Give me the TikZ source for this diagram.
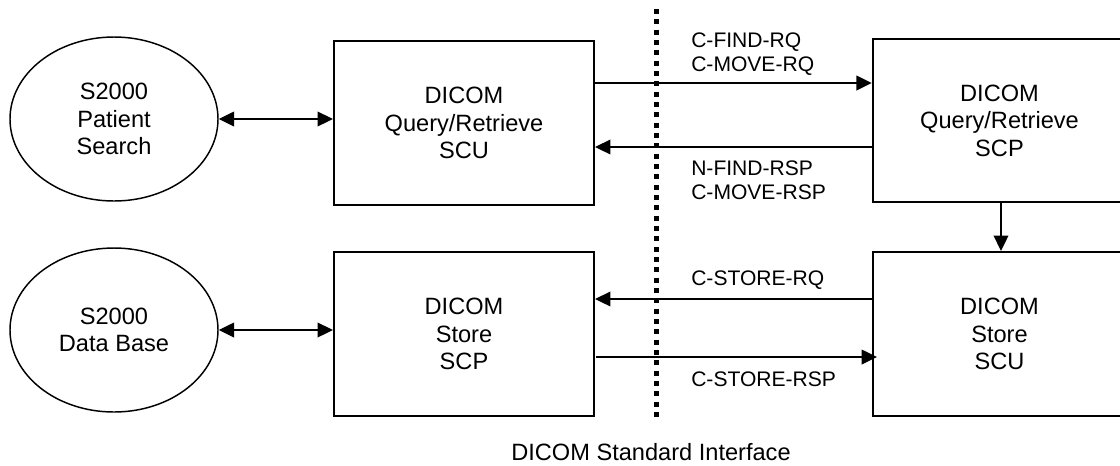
\documentclass[tikz,border=0pt]{standalone}
\usepackage{fontspec}
\setmainfont{Liberation Sans}
\usetikzlibrary{arrows.meta,shapes.geometric}
\tikzset{
  x=0.75pt,y=-0.75pt,
  boxnode/.style={draw,line width=1.6pt,inner sep=0pt,align=center,font=\fontsize{17.7}{20.6}\selectfont},
  ovalnode/.style={boxnode,ellipse,line width=1.1pt},
  lbl/.style={inner sep=0pt,align=left,anchor=west,font=\fontsize{15.8}{18.3}\selectfont},
  conn/.style={line width=1.1pt,-{Triangle[length=11.5pt,width=11pt]}},
  conn2/.style={line width=1.1pt,{Triangle[length=11.5pt,width=11pt]}-{Triangle[length=11.5pt,width=11pt]}},
}
\begin{document}
\begin{tikzpicture}
\useasboundingbox (0,0) rectangle (1120,465);
\coordinate (qtop) at (656,9);
\coordinate (qbot) at (656,420);
\draw[line width=3.75pt,dash pattern=on 3.75pt off 4pt] (qtop) -- (qbot);
\node[ovalnode,minimum width=156pt,minimum height=123pt] (e1) at (114,119) {S2000\\Patient\\Search};
\node[ovalnode,minimum width=156pt,minimum height=123pt] (e2) at (114,330) {S2000\\Data Base};
\node[boxnode,minimum width=195pt,minimum height=123pt] (qu) at (464,123) {DICOM\\Query/Retrieve\\SCU};
\node[boxnode,minimum width=195pt,minimum height=123pt] (su) at (464,334) {DICOM\\Store\\SCP};
\node[boxnode,minimum width=190pt,minimum height=122pt,text width=185pt] (qp) at (999.5,120.5) {DICOM\\Query/Retrieve\\SCP};
\node[boxnode,minimum width=190pt,minimum height=123pt,text width=185pt] (sp) at (999.5,334) {DICOM\\Store\\SCU};
\draw[conn2] (e1.east) -- (e1.east -| qu.west);
\draw[conn2] (e2.east) -- (e2.east -| su.west);
\draw[conn] (qu.east |- 0,83) -- (qp.west |- 0,83);
\draw[conn] (qp.west |- 0,147) -- (qu.east |- 0,147);
\draw[conn] (sp.west |- 0,299) -- (su.east |- 0,299);
\coordinate (rspstart) at (596,357);
\coordinate (rspend) at (877,357);
\draw[conn] (rspstart) -- (rspend);
\draw[conn] (qp.south -| 1001,0) -- (sp.north -| 1001,0);
\node[lbl] (t1) at (691,54) {C-FIND-RQ\\C-MOVE-RQ};
\node[lbl] (t2) at (691,180.5) {N-FIND-RSP\\C-MOVE-RSP};
\node[lbl] (t3) at (691,280) {C-STORE-RQ};
\node[lbl] (t4) at (691,379) {C-STORE-RSP};
\node[lbl,anchor=center,font=\fontsize{17.7}{20.6}\selectfont] (t5) at (651,452) {DICOM Standard Interface};
\end{tikzpicture}
\end{document}
